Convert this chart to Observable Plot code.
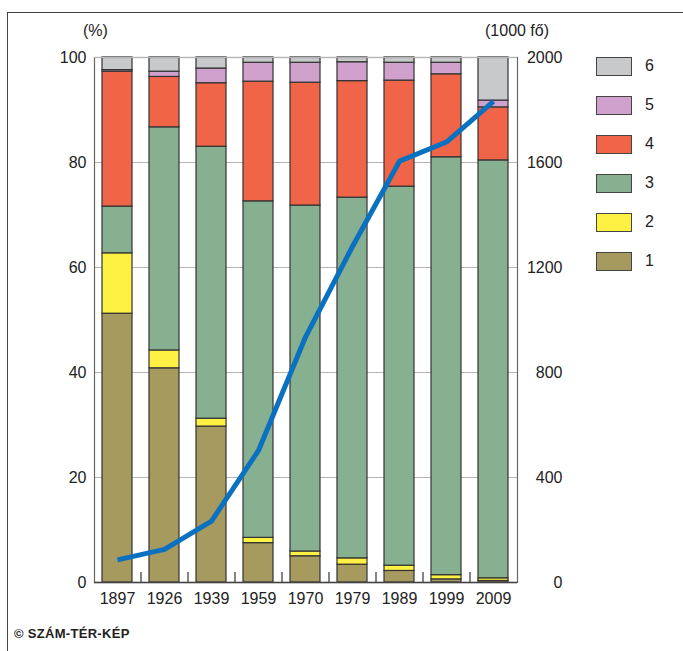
<!DOCTYPE html>
<html>
<head>
<meta charset="utf-8">
<script src="https://cdn.jsdelivr.net/npm/d3@7"></script>
<script src="https://cdn.jsdelivr.net/npm/@observablehq/plot@0.6"></script>
<style>
  body { margin: 0; background: #fff; }
  #wrap { position: relative; width: 683px; height: 651px; font-family: "Liberation Sans", Arial, sans-serif; color: #222; overflow: hidden; }
  #border { position: absolute; left: 7px; top: 12px; width: 680px; height: 660px; border-top: 1.5px solid #444; border-left: 1.5px solid #444; }
  .lbl { position: absolute; font-size: 16px; white-space: nowrap; }
  #legend { position: absolute; left: 596px; top: 57px; }
  .row { position: absolute; left: 0; width: 80px; height: 20px; }
  .sw { position: absolute; left: 0; top: 0; width: 34px; height: 17px; border: 1.5px solid #444; }
  .rl { position: absolute; left: 49px; top: 0px; font-size: 16px; }
  #caption { position: absolute; left: 14px; top: 626px; font-size: 13px; font-weight: bold; letter-spacing: 0.3px; }
</style>
</head>
<body>
<div id="wrap">
  <div id="border"></div>
  <div id="chart" style="position:absolute;left:0;top:0;"></div>
  <div class="lbl" id="pct" style="left:83px;top:22px;">(%)</div>
  <div class="lbl" id="pop" style="left:485px;top:22px;">(1000 fő)</div>
  <div id="legend"></div>
  <div id="caption">© SZÁM-TÉR-KÉP</div>
</div>
<script>
// ---- data ----
const years = ["1897", "1926", "1939", "1959", "1970", "1979", "1989", "1999", "2009"];
const categories = ["1", "2", "3", "4", "5", "6"];
const colors = ["#a69a5f", "#fff144", "#87b091", "#f06548", "#cfa1cc", "#c8c9cb"];
const share1 = [51.2, 40.8, 29.7, 7.5, 5.0, 3.4, 2.2, 0.6, 0.3];
const share2 = [11.5, 3.4, 1.5, 1.0, 0.9, 1.2, 1.0, 0.8, 0.5];
const share3 = [8.9, 42.5, 51.8, 64.1, 65.9, 68.7, 72.2, 79.6, 79.6];
const share4 = [25.7, 9.6, 12.1, 22.8, 23.4, 22.2, 20.2, 15.8, 10.1];
const share5 = [0.3, 1.0, 2.8, 3.6, 3.8, 3.6, 3.4, 2.2, 1.3];
const share6 = [2.4, 2.7, 2.1, 1.0, 1.0, 0.9, 1.0, 1.0, 8.2];
const population = [86, 126, 234, 503, 935, 1280, 1605, 1678, 1833]; // 1000 fő
const leftTicks = [0, 20, 40, 60, 80, 100];
const rightTicks = ["0", "400", "800", "1200", "1600", "2000"];
const popMax = 2000;

const shares = [share1, share2, share3, share4, share5, share6];
const rows = [];
categories.forEach((c, ci) => years.forEach((y, yi) => rows.push({year: y, cat: c, value: shares[ci][yi]})));
const lineData = years.map((y, i) => ({year: y, pop: population[i]}));

const W = 683, H = 651, mL = 94, mR = 166, mT = 57, mB = 69;
const step = (W - mL - mR) / years.length;

const chart = Plot.plot({
  width: W, height: H,
  marginLeft: mL, marginRight: mR, marginTop: mT, marginBottom: mB,
  style: {fontFamily: '"Liberation Sans", Arial, sans-serif', fontSize: "16px", color: "#222", background: "transparent"},
  x: {type: "band", domain: years, paddingInner: 0.36, paddingOuter: 0.18},
  y: {domain: [0, 100]},
  color: {domain: categories, range: colors},
  marks: [
    Plot.gridY(leftTicks.filter(t => t > 0 && t < 100), {stroke: "#b5b5b5", strokeOpacity: 1, strokeWidth: 1.2}),
    Plot.barY(rows, {x: "year", y: "value", z: "cat", fill: "cat", stroke: "#333", strokeWidth: 1.2, order: categories}),
    Plot.frame({stroke: "#666", strokeWidth: 1.2}),
    Plot.gridY([100], {stroke: "#b5b5b5", strokeOpacity: 1, strokeWidth: 1.2}),
    Plot.ruleY([0], {stroke: "#444", strokeWidth: 1.5}),
    Plot.ruleX(years.slice(1), {x: d => d, dx: -step / 2, y1: 0, y2: 1.9, stroke: "#333", strokeWidth: 1.2}),
    Plot.line(lineData, {x: "year", y: d => d.pop / popMax * 100, stroke: "#0a70c0", strokeWidth: 5, strokeLinejoin: "round", strokeLinecap: "butt"}),
    Plot.axisX({tickSize: 0, tickPadding: 10, label: null, fontSize: 16}),
    Plot.axisY(leftTicks, {anchor: "left", tickSize: 0, tickPadding: 8, label: null, fontSize: 16}),
    Plot.axisY(leftTicks, {anchor: "right", tickSize: 0, tickPadding: 0, dx: 45, textAnchor: "end",
      tickFormat: (d) => rightTicks[leftTicks.indexOf(d)], label: null, fontSize: 16})
  ]
});
document.getElementById("chart").appendChild(chart);

// legend (top-down: 6..1)
const legend = document.getElementById("legend");
const order = categories.slice().reverse();
order.forEach((c, i) => {
  const r = document.createElement("div");
  r.className = "row";
  r.style.top = (i * 39) + "px";
  const sw = document.createElement("div");
  sw.className = "sw";
  sw.style.background = colors[categories.indexOf(c)];
  const t = document.createElement("div");
  t.className = "rl";
  t.textContent = c;
  r.appendChild(sw); r.appendChild(t);
  legend.appendChild(r);
});
</script>
</body>
</html>
